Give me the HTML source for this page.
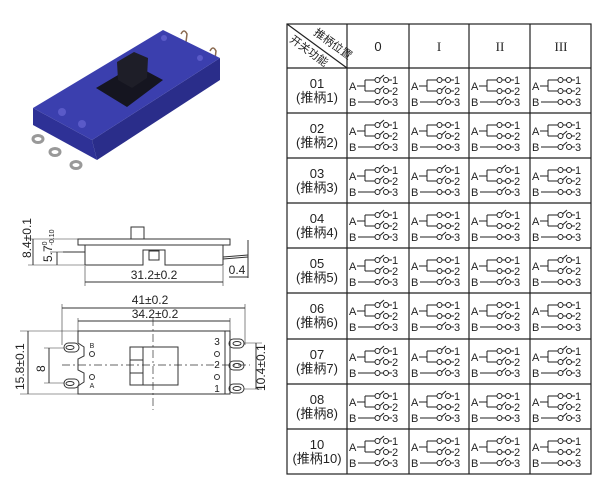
<!DOCTYPE html>
<html><head><meta charset="utf-8"><style>
html,body{margin:0;padding:0;background:#fff;}
svg{display:block;font-family:"Liberation Sans","Noto Sans CJK SC",sans-serif;}
.lb{font-size:13px;fill:#222;text-anchor:middle;}
</style></head><body>
<svg width="614" height="487" viewBox="0 0 614 487" xmlns="http://www.w3.org/2000/svg">
<defs>
<g id="base" stroke="#222" stroke-width="1" fill="none">
<line x1="10" y1="18" x2="18" y2="18"/><line x1="18" y1="12" x2="18" y2="23"/>
<line x1="18" y1="12" x2="28" y2="12"/><line x1="18" y1="23" x2="28" y2="23"/>
<line x1="11" y1="34" x2="28" y2="34"/>
<line x1="41.5" y1="12" x2="45" y2="12"/><line x1="41.5" y1="23" x2="45" y2="23"/><line x1="41.5" y1="34" x2="45" y2="34"/>
<circle cx="39" cy="12" r="2.5"/><circle cx="39" cy="23" r="2.5"/><circle cx="39" cy="34" r="2.5"/>
</g>
<g id="o" stroke="#222" stroke-width="1" fill="none"><circle cx="30.5" cy="0" r="2.5"/><line x1="32.5" y1="-1" x2="37" y2="-5"/></g>
<g id="k" stroke="#222" stroke-width="1" fill="none"><circle cx="30.5" cy="0" r="2.5"/><line x1="33" y1="0" x2="36.5" y2="0"/></g>
<g id="lt" font-size="11" fill="#222"><text x="2" y="22">A</text><text x="2" y="38">B</text><text x="45" y="16">1</text><text x="45" y="27">2</text><text x="45" y="38">3</text></g>
</defs>

<!-- photo -->
<g>
<path d="M181 34 q3 -6 6 0 l-1 8" stroke="#8a6a50" stroke-width="1.5" fill="none"/>
<path d="M210 51 q3 -6 6 0 l-1 8" stroke="#8a6a50" stroke-width="1.5" fill="none"/>
<polygon points="33,108 92,140 97,160 33,125" fill="#2e3196"/>
<polygon points="92,140 220,58 220,80 97,160" fill="#2a2d8a"/>
<polygon points="33,108 163,30 220,58 92,140" fill="#3b3fae"/>
<polygon points="96,88 135,65 163,80 127,107" fill="#151520"/>
<polygon points="117,62 134,52 148,58 147,78 132,88 118,80" fill="#1e1e28"/>
<circle cx="62" cy="112" r="4" fill="#5a5ac8"/><circle cx="82" cy="124" r="4" fill="#5a5ac8"/>
<circle cx="164" cy="38" r="3" fill="#5a5ac8"/><circle cx="200" cy="58" r="3" fill="#5a5ac8"/>
<g fill="none" stroke="#999" stroke-width="3">
<ellipse cx="38" cy="139" rx="5" ry="3.5"/><ellipse cx="55" cy="152" rx="5" ry="3.5"/><ellipse cx="76" cy="165" rx="5" ry="3.5"/>
</g>
</g>

<!-- side view -->
<g stroke="#333" stroke-width="1" fill="none">
<rect x="131" y="227" width="13" height="12"/>
<rect x="78" y="239" width="152" height="6"/>
<path d="M85 245 V265 H143 V250 H165 V265 H223 V245"/>
<rect x="149" y="251" width="10" height="9"/>
<line x1="63" y1="252" x2="85" y2="252"/>
<line x1="223" y1="257" x2="248" y2="255"/><line x1="223" y1="259" x2="248" y2="257"/>
<line x1="28" y1="239" x2="131" y2="239" stroke-width="0.6"/><line x1="28" y1="265" x2="85" y2="265" stroke-width="0.6"/>
<line x1="33" y1="239" x2="33" y2="265"/><line x1="50" y1="252" x2="63" y2="252" stroke-width="0.6"/>
<line x1="57" y1="252" x2="57" y2="265"/>
<line x1="85" y1="266" x2="85" y2="286" stroke-width="0.6"/><line x1="223" y1="266" x2="223" y2="286" stroke-width="0.6"/>
<line x1="85" y1="282" x2="223" y2="282"/>
<line x1="229" y1="277" x2="248" y2="277"/><line x1="248" y1="240" x2="248" y2="278"/>
</g>
<text transform="translate(31,258) rotate(-90)" font-size="12" fill="#222">8.4±0.1</text>
<text transform="translate(52,262) rotate(-90)" font-size="12" fill="#222">5.7<tspan font-size="7" dy="-5">0</tspan><tspan font-size="7" dx="-4" dy="7">-0.10</tspan></text>
<text x="154" y="279" font-size="12" fill="#222" text-anchor="middle">31.2±0.2</text>
<text x="237" y="274" font-size="12" fill="#222" text-anchor="middle">0.4</text>

<!-- top view -->
<g stroke="#333" stroke-width="1" fill="none">
<line x1="62" y1="304" x2="62" y2="345" stroke-width="0.6"/><line x1="245" y1="304" x2="245" y2="345" stroke-width="0.6"/>
<line x1="62" y1="308" x2="245" y2="308"/>
<line x1="78" y1="318" x2="78" y2="331" stroke-width="0.6"/><line x1="230" y1="318" x2="230" y2="331" stroke-width="0.6"/>
<line x1="78" y1="321" x2="230" y2="321"/>
<path d="M78 331 H230 V394 H78 V386 L84 382 V373 L78 370 V359 L84 356 V347 L78 343 Z"/>
<line x1="225" y1="331" x2="225" y2="394"/>
<rect x="130" y="347" width="48" height="38"/><line x1="143" y1="347" x2="143" y2="385"/>
<line x1="130" y1="360" x2="143" y2="360"/><line x1="130" y1="373" x2="143" y2="373"/>
<rect x="64" y="343" width="15" height="9" rx="4.5"/><rect x="64" y="379" width="15" height="9" rx="4.5"/>
<ellipse cx="70" cy="347.5" rx="4" ry="2"/><ellipse cx="70" cy="383.5" rx="4" ry="2"/>
<circle cx="92" cy="354" r="2.5"/><circle cx="92" cy="377" r="2.5"/>
<circle cx="217" cy="354" r="2.5"/><circle cx="217" cy="377" r="2.5"/>
<rect x="229" y="339" width="15" height="9" rx="4.5"/><rect x="229" y="361" width="15" height="9" rx="4.5"/><rect x="229" y="384" width="15" height="9" rx="4.5"/>
<ellipse cx="237" cy="343.5" rx="4" ry="2"/><ellipse cx="237" cy="365.5" rx="4" ry="2"/><ellipse cx="237" cy="388.5" rx="4" ry="2"/>
<line x1="20" y1="331" x2="78" y2="331" stroke-width="0.6"/><line x1="20" y1="394" x2="78" y2="394" stroke-width="0.6"/>
<line x1="28" y1="331" x2="28" y2="394"/>
<line x1="44" y1="348" x2="64" y2="348" stroke-width="0.6"/><line x1="44" y1="383" x2="64" y2="383" stroke-width="0.6"/>
<line x1="49" y1="348" x2="49" y2="383"/>
<line x1="244" y1="343" x2="262" y2="343" stroke-width="0.6"/><line x1="244" y1="389" x2="262" y2="389" stroke-width="0.6"/>
<line x1="256" y1="343" x2="256" y2="389"/>
<line x1="62" y1="365" x2="250" y2="365" stroke-dasharray="8,3,2,3" stroke-width="0.7"/>
<line x1="153" y1="318" x2="153" y2="410" stroke-dasharray="8,3,2,3" stroke-width="0.7"/>
</g>
<text x="150" y="304" font-size="12" fill="#222" text-anchor="middle">41±0.2</text>
<text x="155" y="318" font-size="12" fill="#222" text-anchor="middle">34.2±0.2</text>
<text transform="translate(24,390) rotate(-90)" font-size="12" fill="#222">15.8±0.1</text>
<text transform="translate(45,372) rotate(-90)" font-size="12" fill="#222">8</text>
<text transform="translate(265,391) rotate(-90)" font-size="12" fill="#222">10.4±0.1</text>
<g font-size="7" fill="#222" text-anchor="middle"><text x="92" y="348">B</text><text x="92" y="388">A</text></g>
<g font-size="10" fill="#222" text-anchor="middle"><text x="217" y="345">3</text><text x="217" y="368">2</text><text x="217" y="392">1</text></g>

<!-- table -->
<g stroke="#222" stroke-width="1.2" fill="none">
<rect x="287" y="24" width="304" height="450"/>
<line x1="347" y1="24" x2="347" y2="474"/><line x1="409" y1="24" x2="409" y2="474"/>
<line x1="469" y1="24" x2="469" y2="474"/><line x1="530" y1="24" x2="530" y2="474"/>
<line x1="287" y1="68" x2="591" y2="68"/><line x1="287" y1="113" x2="591" y2="113"/>
<line x1="287" y1="158" x2="591" y2="158"/><line x1="287" y1="203" x2="591" y2="203"/>
<line x1="287" y1="248" x2="591" y2="248"/><line x1="287" y1="293" x2="591" y2="293"/>
<line x1="287" y1="339" x2="591" y2="339"/><line x1="287" y1="384" x2="591" y2="384"/>
<line x1="287" y1="429" x2="591" y2="429"/>
<line x1="287" y1="24" x2="347" y2="68"/>
</g>
<text transform="translate(313,34) rotate(36)" font-size="11" fill="#222">推柄位置</text>
<text transform="translate(289,41) rotate(36)" font-size="11" fill="#222">开关功能</text>
<g font-size="13" fill="#222" text-anchor="middle">
<text x="378" y="51">0</text>
<text x="439" y="51" font-family="Liberation Serif,serif">I</text>
<text x="500" y="51" font-family="Liberation Serif,serif">II</text>
<text x="561" y="51" font-family="Liberation Serif,serif">III</text>
</g>
<g class="lb">
<text class="lb" x="317" y="88">01</text><text class="lb" x="317" y="102">(推柄1)</text>
<text class="lb" x="317" y="133">02</text><text class="lb" x="317" y="147">(推柄2)</text>
<text class="lb" x="317" y="178">03</text><text class="lb" x="317" y="192">(推柄3)</text>
<text class="lb" x="317" y="223">04</text><text class="lb" x="317" y="237">(推柄4)</text>
<text class="lb" x="317" y="268">05</text><text class="lb" x="317" y="282">(推柄5)</text>
<text class="lb" x="317" y="313">06</text><text class="lb" x="317" y="327">(推柄6)</text>
<text class="lb" x="317" y="359">07</text><text class="lb" x="317" y="373">(推柄7)</text>
<text class="lb" x="317" y="404">08</text><text class="lb" x="317" y="418">(推柄8)</text>
<text class="lb" x="317" y="449">10</text><text class="lb" x="317" y="463">(推柄10)</text>
</g>

<g transform="translate(347,68)"><use href="#base"/><use href="#lt"/><use href="#o" y="12"/><use href="#o" y="23"/><use href="#o" y="34"/></g>
<g transform="translate(409,68)"><use href="#base"/><use href="#lt"/><use href="#k" y="12"/><use href="#o" y="23"/><use href="#o" y="34"/></g>
<g transform="translate(469,68)"><use href="#base"/><use href="#lt"/><use href="#k" y="12"/><use href="#k" y="23"/><use href="#o" y="34"/></g>
<g transform="translate(530,68)"><use href="#base"/><use href="#lt"/><use href="#k" y="12"/><use href="#k" y="23"/><use href="#k" y="34"/></g>
<g transform="translate(347,113)"><use href="#base"/><use href="#lt"/><use href="#o" y="12"/><use href="#o" y="23"/><use href="#o" y="34"/></g>
<g transform="translate(409,113)"><use href="#base"/><use href="#lt"/><use href="#k" y="12"/><use href="#o" y="23"/><use href="#k" y="34"/></g>
<g transform="translate(469,113)"><use href="#base"/><use href="#lt"/><use href="#k" y="12"/><use href="#k" y="23"/><use href="#k" y="34"/></g>
<g transform="translate(530,113)"><use href="#base"/><use href="#lt"/><use href="#k" y="12"/><use href="#o" y="23"/><use href="#o" y="34"/></g>
<g transform="translate(347,158)"><use href="#base"/><use href="#lt"/><use href="#o" y="12"/><use href="#o" y="23"/><use href="#o" y="34"/></g>
<g transform="translate(409,158)"><use href="#base"/><use href="#lt"/><use href="#o" y="12"/><use href="#o" y="23"/><use href="#k" y="34"/></g>
<g transform="translate(469,158)"><use href="#base"/><use href="#lt"/><use href="#o" y="12"/><use href="#k" y="23"/><use href="#o" y="34"/></g>
<g transform="translate(530,158)"><use href="#base"/><use href="#lt"/><use href="#k" y="12"/><use href="#o" y="23"/><use href="#k" y="34"/></g>
<g transform="translate(347,203)"><use href="#base"/><use href="#lt"/><use href="#o" y="12"/><use href="#o" y="23"/><use href="#o" y="34"/></g>
<g transform="translate(409,203)"><use href="#base"/><use href="#lt"/><use href="#k" y="12"/><use href="#k" y="23"/><use href="#o" y="34"/></g>
<g transform="translate(469,203)"><use href="#base"/><use href="#lt"/><use href="#o" y="12"/><use href="#k" y="23"/><use href="#k" y="34"/></g>
<g transform="translate(530,203)"><use href="#base"/><use href="#lt"/><use href="#o" y="12"/><use href="#o" y="23"/><use href="#k" y="34"/></g>
<g transform="translate(347,248)"><use href="#base"/><use href="#lt"/><use href="#o" y="12"/><use href="#o" y="23"/><use href="#o" y="34"/></g>
<g transform="translate(409,248)"><use href="#base"/><use href="#lt"/><use href="#k" y="12"/><use href="#k" y="23"/><use href="#o" y="34"/></g>
<g transform="translate(469,248)"><use href="#base"/><use href="#lt"/><use href="#k" y="12"/><use href="#k" y="23"/><use href="#o" y="34"/></g>
<g transform="translate(530,248)"><use href="#base"/><use href="#lt"/><use href="#o" y="12"/><use href="#o" y="23"/><use href="#k" y="34"/></g>
<g transform="translate(347,293)"><use href="#base"/><use href="#lt"/><use href="#o" y="12"/><use href="#o" y="23"/><use href="#o" y="34"/></g>
<g transform="translate(409,293)"><use href="#base"/><use href="#lt"/><use href="#k" y="12"/><use href="#k" y="23"/><use href="#o" y="34"/></g>
<g transform="translate(469,293)"><use href="#base"/><use href="#lt"/><use href="#k" y="12"/><use href="#o" y="23"/><use href="#k" y="34"/></g>
<g transform="translate(530,293)"><use href="#base"/><use href="#lt"/><use href="#k" y="12"/><use href="#k" y="23"/><use href="#k" y="34"/></g>
<g transform="translate(347,339)"><use href="#base"/><use href="#lt"/><use href="#o" y="12"/><use href="#o" y="23"/><use href="#k" y="34"/></g>
<g transform="translate(409,339)"><use href="#base"/><use href="#lt"/><use href="#o" y="12"/><use href="#k" y="23"/><use href="#o" y="34"/></g>
<g transform="translate(469,339)"><use href="#base"/><use href="#lt"/><use href="#k" y="12"/><use href="#o" y="23"/><use href="#o" y="34"/></g>
<g transform="translate(530,339)"><use href="#base"/><use href="#lt"/><use href="#o" y="12"/><use href="#o" y="23"/><use href="#o" y="34"/></g>
<g transform="translate(347,384)"><use href="#base"/><use href="#lt"/><use href="#o" y="12"/><use href="#o" y="23"/><use href="#o" y="34"/></g>
<g transform="translate(409,384)"><use href="#base"/><use href="#lt"/><use href="#o" y="12"/><use href="#k" y="23"/><use href="#o" y="34"/></g>
<g transform="translate(469,384)"><use href="#base"/><use href="#lt"/><use href="#k" y="12"/><use href="#o" y="23"/><use href="#k" y="34"/></g>
<g transform="translate(530,384)"><use href="#base"/><use href="#lt"/><use href="#k" y="12"/><use href="#o" y="23"/><use href="#o" y="34"/></g>
<g transform="translate(347,429)"><use href="#base"/><use href="#lt"/><use href="#o" y="12"/><use href="#o" y="23"/><use href="#o" y="34"/></g>
<g transform="translate(409,429)"><use href="#base"/><use href="#lt"/><use href="#k" y="12"/><use href="#o" y="23"/><use href="#o" y="34"/></g>
<g transform="translate(469,429)"><use href="#base"/><use href="#lt"/><use href="#o" y="12"/><use href="#k" y="23"/><use href="#o" y="34"/></g>
<g transform="translate(530,429)"><use href="#base"/><use href="#lt"/><use href="#k" y="12"/><use href="#k" y="23"/><use href="#k" y="34"/></g>
</svg>
</body></html>
